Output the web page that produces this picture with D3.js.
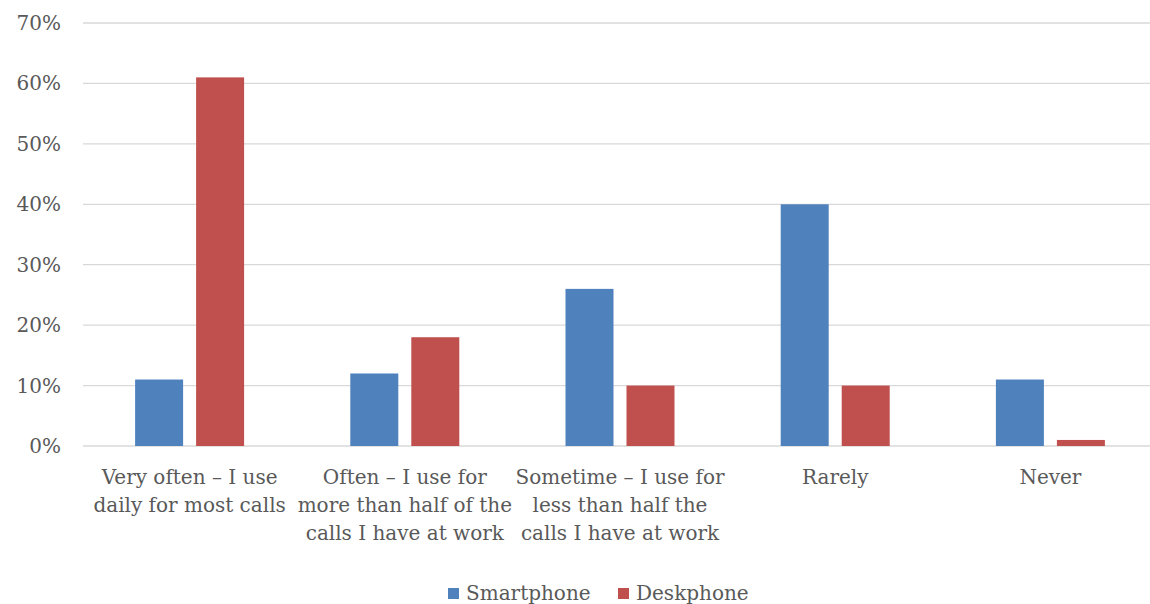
<!DOCTYPE html>
<html>
  <head>
    <meta charset="utf-8">
    <title>Smartphone vs deskphone use</title>
    <script src="https://d3js.org/d3.v7.min.js"></script>
    <style>
      body { margin: 0; background: white; }
      svg text { font-family: "DejaVu Serif", serif; fill: #595959; }
    </style>
  </head>
  <body>
    <svg id="chart" width="1150" height="604"></svg>
    <script>
      // data
      const categories = [
        ["Very often – I use", "daily for most calls"],
        ["Often – I use for", "more than half of the", "calls I have at work"],
        ["Sometime – I use for", "less than half the", "calls I have at work"],
        ["Rarely"],
        ["Never"]
      ];
      const seriesNames = ["Smartphone", "Deskphone"];
      const smartphone = [11, 12, 26, 40, 11];
      const deskphone = [61, 18, 10, 10, 1];
      const yTicks = [0, 10, 20, 30, 40, 50, 60, 70];
      const colors = ["#4F81BD", "#C0504D"];

      const svg = d3.select("#chart");
      const plotLeft = 82, plotRight = 1158, plotTop = 23, plotBottom = 446;

      const x = d3.scaleBand()
        .domain(d3.range(categories.length))
        .range([plotLeft, plotRight]);
      const y = d3.scaleLinear()
        .domain([0, 70])
        .range([plotBottom, plotTop]);

      // gridlines + tick labels
      svg.append("g").selectAll("line")
          .data(yTicks)
        .enter().append("line")
          .attr("x1", plotLeft + 1).attr("x2", 1150)
          .attr("y1", d => y(d)).attr("y2", d => y(d))
          .attr("stroke", "#d9d9d9")
          .attr("stroke-width", 1.3);
      svg.append("g").selectAll("text")
          .data(yTicks)
        .enter().append("text")
          .attr("x", 61)
          .attr("y", d => y(d))
          .attr("dy", "0.35em")
          .attr("text-anchor", "end")
          .style("font-size", "20px")
          .text(d => d + "%");

      // bars
      const barW = 48, gap = 13;
      const series = [smartphone, deskphone];
      series.forEach(function(vals, s) {
        svg.append("g").selectAll("rect")
            .data(vals)
          .enter().append("rect")
            .attr("x", (d, i) => x(i) + x.bandwidth() / 2 + (s === 0 ? -gap / 2 - barW : gap / 2))
            .attr("width", barW)
            .attr("y", d => y(d))
            .attr("height", d => plotBottom - y(d))
            .attr("fill", colors[s]);
      });

      // category labels
      const cat = svg.append("g").selectAll("text")
          .data(categories)
        .enter().append("text")
          .attr("text-anchor", "middle")
          .style("font-size", "20px")
          .attr("transform", (d, i) => "translate(" + (x(i) + x.bandwidth() / 2) + ",484)");
      cat.selectAll("tspan")
          .data(d => d)
        .enter().append("tspan")
          .attr("x", 0)
          .attr("y", (d, i) => i * 28)
          .text(d => d);

      // legend
      const legendX = [448, 618];
      seriesNames.forEach(function(name, s) {
        svg.append("rect")
          .attr("x", legendX[s]).attr("y", 588)
          .attr("width", 11).attr("height", 11)
          .attr("fill", colors[s]);
        svg.append("text")
          .attr("x", legendX[s] + 18).attr("y", 600)
          .style("font-size", "20px")
          .text(name);
      });
    </script>
  </body>
</html>
